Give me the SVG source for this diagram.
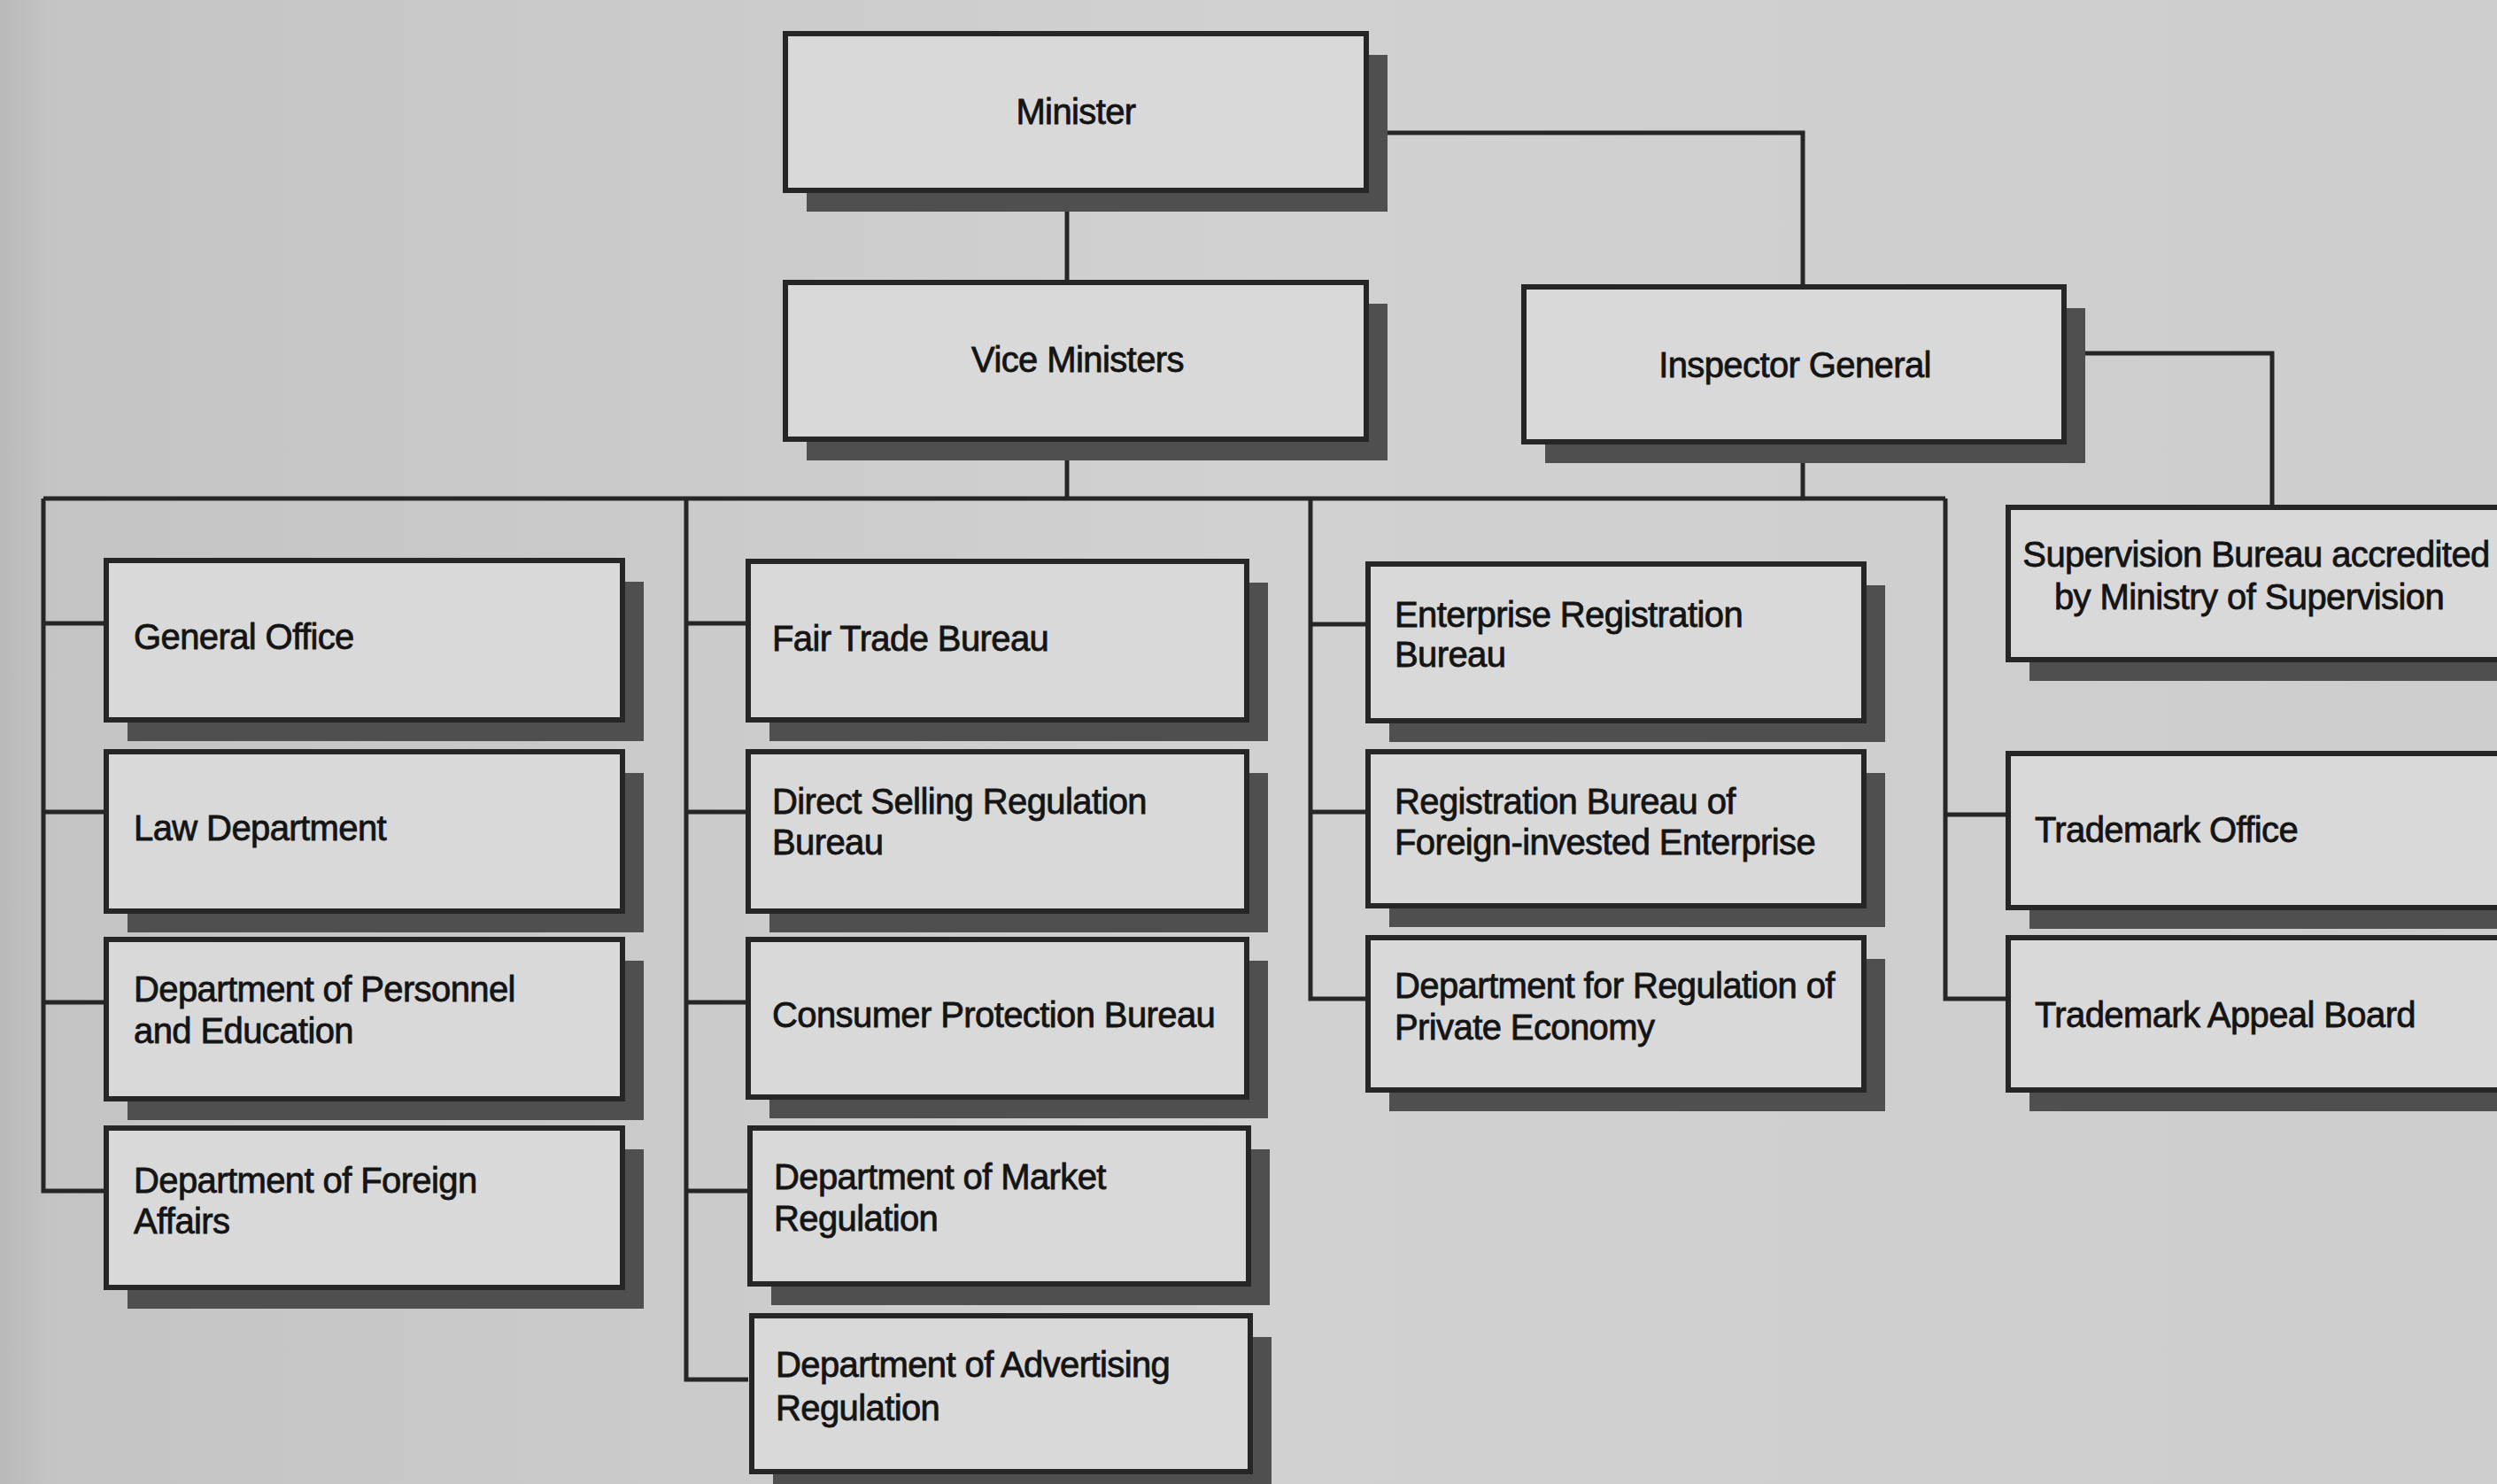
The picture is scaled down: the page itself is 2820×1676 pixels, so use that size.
<svg xmlns="http://www.w3.org/2000/svg" width="2820" height="1676" viewBox="0 0 2820 1676">
<defs>
<linearGradient id="bg" x1="0" y1="0" x2="1" y2="0">
<stop offset="0" stop-color="#b9b9b9"/>
<stop offset="0.02" stop-color="#c4c4c4"/>
<stop offset="0.5" stop-color="#d1d1d1"/>
<stop offset="1" stop-color="#cdcdcd"/>
</linearGradient>
<style>
.sh{fill:#4f4f4f}
.bx{fill:#d9d9d9;stroke:#262626;stroke-width:6}
.ln{fill:none;stroke:#262626;stroke-width:5}
text{font-family:"Liberation Sans",Arial,sans-serif;font-size:40px;fill:#141414;stroke:#141414;stroke-width:0.8;letter-spacing:-0.6px}
.c{text-anchor:middle}
</style>
</defs>
<rect x="0" y="0" width="2820" height="1676" fill="url(#bg)"/>

<g id="connectors">
<path class="ln" d="M1205 215 V319"/>
<path class="ln" d="M1543 150 H2036 V324"/>
<path class="ln" d="M2331 399 H2566 V573"/>
<path class="ln" d="M1205 496 V563"/>
<path class="ln" d="M2036 499 V563"/>
<path class="ln" d="M49 563 H2197"/>
<path class="ln" d="M49 563 V1345 H120 M49 704 H120 M49 917 H120 M49 1132 H120"/>
<path class="ln" d="M775 563 V1558 H845 M775 704 H845 M775 917 H845 M775 1132 H845 M775 1345 H845"/>
<path class="ln" d="M1480 563 V1128 H1545 M1480 705 H1545 M1480 917 H1545"/>
<path class="ln" d="M2197 563 V1128 H2268 M2197 920 H2268"/>
</g>

<g id="minister"><rect class="sh" x="911" y="62" width="656" height="177"/><rect class="bx" x="887" y="38" width="656" height="177"/><text class="c" x="1215" y="140">Minister</text></g>
<g id="vice-ministers"><rect class="sh" x="911" y="343" width="656" height="177"/><rect class="bx" x="887" y="319" width="656" height="177"/><text class="c" x="1217" y="420">Vice Ministers</text></g>
<g id="inspector-general"><rect class="sh" x="1745" y="348" width="610" height="175"/><rect class="bx" x="1721" y="324" width="610" height="175"/><text class="c" x="2027" y="426">Inspector General</text></g>

<g id="general-office"><rect class="sh" x="144" y="657" width="583" height="180"/><rect class="bx" x="120" y="633" width="583" height="180"/><text x="151" y="733">General Office</text></g>
<g id="law-department"><rect class="sh" x="144" y="873" width="583" height="180"/><rect class="bx" x="120" y="849" width="583" height="180"/><text x="151" y="949">Law Department</text></g>
<g id="dept-personnel"><rect class="sh" x="144" y="1085" width="583" height="180"/><rect class="bx" x="120" y="1061" width="583" height="180"/><text x="151" y="1131">Department of Personnel</text><text x="151" y="1178">and Education</text></g>
<g id="dept-foreign"><rect class="sh" x="144" y="1298" width="583" height="180"/><rect class="bx" x="120" y="1274" width="583" height="180"/><text x="151" y="1347">Department of Foreign</text><text x="151" y="1393">Affairs</text></g>

<g id="fair-trade"><rect class="sh" x="869" y="658" width="563" height="179"/><rect class="bx" x="845" y="634" width="563" height="179"/><text x="872" y="735">Fair Trade Bureau</text></g>
<g id="direct-selling"><rect class="sh" x="869" y="873" width="563" height="180"/><rect class="bx" x="845" y="849" width="563" height="180"/><text x="872" y="919">Direct Selling Regulation</text><text x="872" y="965">Bureau</text></g>
<g id="consumer-protection"><rect class="sh" x="869" y="1085" width="563" height="178"/><rect class="bx" x="845" y="1061" width="563" height="178"/><text x="872" y="1160">Consumer Protection Bureau</text></g>
<g id="dept-market"><rect class="sh" x="871" y="1298" width="563" height="176"/><rect class="bx" x="847" y="1274" width="563" height="176"/><text x="874" y="1343">Department of Market</text><text x="874" y="1390">Regulation</text></g>
<g id="dept-advertising"><rect class="sh" x="873" y="1510" width="563" height="176"/><rect class="bx" x="849" y="1486" width="563" height="176"/><text x="876" y="1555">Department of Advertising</text><text x="876" y="1604">Regulation</text></g>

<g id="enterprise-registration"><rect class="sh" x="1569" y="661" width="560" height="177"/><rect class="bx" x="1545" y="637" width="560" height="177"/><text x="1575" y="708">Enterprise Registration</text><text x="1575" y="753">Bureau</text></g>
<g id="registration-foreign"><rect class="sh" x="1569" y="873" width="560" height="174"/><rect class="bx" x="1545" y="849" width="560" height="174"/><text x="1575" y="919">Registration Bureau of</text><text x="1575" y="965">Foreign-invested Enterprise</text></g>
<g id="dept-private-economy"><rect class="sh" x="1569" y="1083" width="560" height="172"/><rect class="bx" x="1545" y="1059" width="560" height="172"/><text x="1575" y="1127">Department for Regulation of</text><text x="1575" y="1174">Private Economy</text></g>

<g id="supervision-bureau"><rect class="sh" x="2292" y="597" width="600" height="172"/><rect class="bx" x="2268" y="573" width="600" height="172"/><text class="c" x="2548" y="640">Supervision Bureau accredited</text><text class="c" x="2540" y="688">by Ministry of Supervision</text></g>
<g id="trademark-office"><rect class="sh" x="2292" y="875" width="600" height="174"/><rect class="bx" x="2268" y="851" width="600" height="174"/><text x="2298" y="951">Trademark Office</text></g>
<g id="trademark-appeal"><rect class="sh" x="2292" y="1083" width="600" height="172"/><rect class="bx" x="2268" y="1059" width="600" height="172"/><text x="2298" y="1160">Trademark Appeal Board</text></g>
</svg>
